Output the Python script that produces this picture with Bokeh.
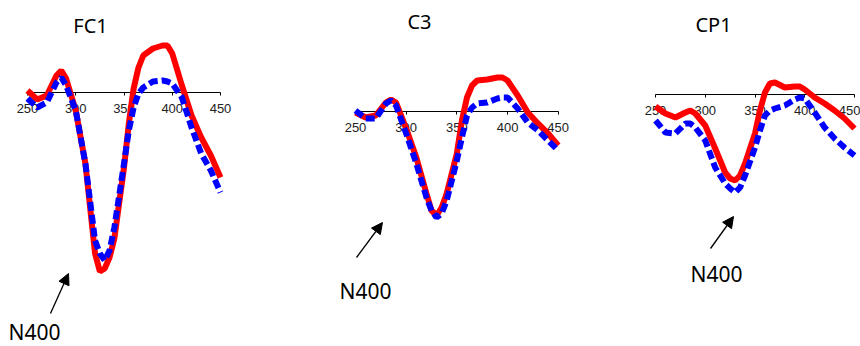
from bokeh.plotting import figure
from bokeh.models import LinearAxis, FixedTicker, Range1d, Arrow, NormalHead, Label
from bokeh.layouts import row
from bokeh.embed import file_html
from bokeh.resources import INLINE

# time points (ms)
time_ms = [250, 260, 270, 280, 285, 290, 300, 310, 320, 325, 330, 335, 340, 350,
           355, 360, 365, 370, 380, 390, 395, 400, 410, 420, 430, 440, 450]
tick_values = [250, 300, 350, 400, 450]
tick_labels = ["250", "300", "350", "400", "450"]

panel_titles = ["FC1", "C3", "CP1"]
annotation_text = "N400"

# amplitudes (µV, estimated)
fc1_red = [0.1, -0.35, -0.15, 0.85, 1.1, 0.7, -0.9, -3.55, -8.05, -8.95, -8.8, -8.25, -7.3, -3.75,
           -1.55, 0.2, 1.25, 1.85, 2.2, 2.35, 2.35, 1.95, 0.35, -1.15, -2.25, -3.15, -4.25]
fc1_blue = [-0.3, -0.75, -0.5, 0.5, 0.75, 0.35, -0.9, -3.55, -7.4, -8.05, -8.4, -7.9, -6.75, -3.55,
            -1.9, -0.75, -0.05, 0.25, 0.55, 0.6, 0.55, 0.45, -0.25, -1.75, -3.05, -3.9, -5.0]

c3_red = [-0.05, -0.3, -0.2, 0.45, 0.6, 0.45, -0.85, -2.3, -4.1, -4.95, -5.2, -4.8, -4.1, -2.1,
          -0.45, 0.7, 1.3, 1.55, 1.6, 1.7, 1.7, 1.55, 0.8, -0.05, -0.6, -1.1, -1.7]
c3_blue = [0.05, -0.35, -0.35, 0.4, 0.55, 0.3, -1.1, -2.6, -4.3, -4.95, -5.3, -5.1, -4.45, -2.45,
           -1.3, -0.2, 0.2, 0.4, 0.45, 0.65, 0.7, 0.7, 0.15, -0.55, -0.95, -1.45, -1.95]

cp1_red = [-0.6, -0.95, -1.15, -0.9, -0.8, -0.95, -1.55, -2.7, -3.9, -4.2, -4.3, -4.05, -3.45, -1.95,
           -0.8, 0.1, 0.55, 0.6, 0.35, 0.4, 0.4, 0.25, -0.15, -0.45, -0.8, -1.2, -1.7]
cp1_blue = [-1.3, -1.9, -1.95, -1.45, -1.45, -1.65, -2.3, -3.65, -4.45, -4.7, -4.9, -4.65, -4.05, -2.65,
            -1.8, -1.05, -0.8, -0.7, -0.55, -0.25, -0.15, -0.2, -0.9, -1.65, -2.2, -2.65, -3.05]

panels = [
    dict(title=panel_titles[0], red=fc1_red, blue=fc1_blue, w=300,
         xr=(222.02, 532.9), yr=(-12.7, 4.6),
         title_xy=(315.3, 3.35), arrow=((273.8, -11.05), (292.5, -9.05)),
         label_xy=(230.4, -11.95)),
    dict(title=panel_titles[1], red=c3_red, blue=c3_blue, w=300,
         xr=(195.73, 491.73), yr=(-11.75, 5.55),
         title_xy=(313.1, 4.5), arrow=((251.0, -7.3), (276.6, -5.55)),
         label_xy=(234.2, -8.95)),
    dict(title=panel_titles[2], red=cp1_red, blue=cp1_blue, w=260,
         xr=(194.72, 456.03), yr=(-12.6, 4.7),
         title_xy=(308.3, 3.5), arrow=((305.3, -7.7), (328.4, -6.1)),
         label_xy=(285.2, -8.95)),
]

figs = []
for pn in panels:
    p = figure(width=pn["w"], height=346, output_backend="svg", toolbar_location=None,
               x_axis_type=None, y_axis_type=None,
               x_range=Range1d(*pn["xr"]), y_range=Range1d(*pn["yr"]),
               min_border=0, min_border_left=0, min_border_right=0,
               min_border_top=0, min_border_bottom=0)
    p.outline_line_color = None
    p.background_fill_color = "white"
    p.border_fill_color = "white"

    ax = LinearAxis(fixed_location=0, bounds=(250, 450),
                    ticker=FixedTicker(ticks=tick_values),
                    major_label_overrides={v: s for v, s in zip(tick_values, tick_labels)})
    ax.axis_line_color = "black"
    ax.axis_line_width = 1.2
    ax.major_tick_in = 0
    ax.major_tick_out = 3
    ax.major_tick_line_color = "black"
    ax.minor_tick_line_color = None
    ax.major_label_standoff = 8
    ax.major_label_text_font = "Liberation Sans"
    ax.major_label_text_font_size = "13px"
    ax.major_label_text_color = "#222222"
    ax.level = "underlay"
    p.add_layout(ax, "below")

    p.line(time_ms, pn["red"], line_color="#ff0000", line_width=6)
    p.line(time_ms, pn["blue"], line_color="#0000ff", line_width=6, line_dash="9 4")

    p.add_layout(Label(x=pn["title_xy"][0], y=pn["title_xy"][1], text=pn["title"],
                       text_align="center", text_baseline="middle",
                       text_font="Noto Sans", text_font_size="20px", text_color="black"))
    (x0, y0), (x1, y1) = pn["arrow"]
    p.add_layout(Arrow(x_start=x0, y_start=y0, x_end=x1, y_end=y1,
                       line_color="black", line_width=1.3,
                       end=NormalHead(size=11, fill_color="black", line_color="black")))
    p.add_layout(Label(x=pn["label_xy"][0], y=pn["label_xy"][1], text=annotation_text,
                       text_align="left", text_baseline="middle",
                       text_font="Noto Sans", text_font_size="21px", text_color="black"))
    figs.append(p)

layout = row(*figs, spacing=0)
open("out.html", "w").write(file_html(layout, INLINE))
